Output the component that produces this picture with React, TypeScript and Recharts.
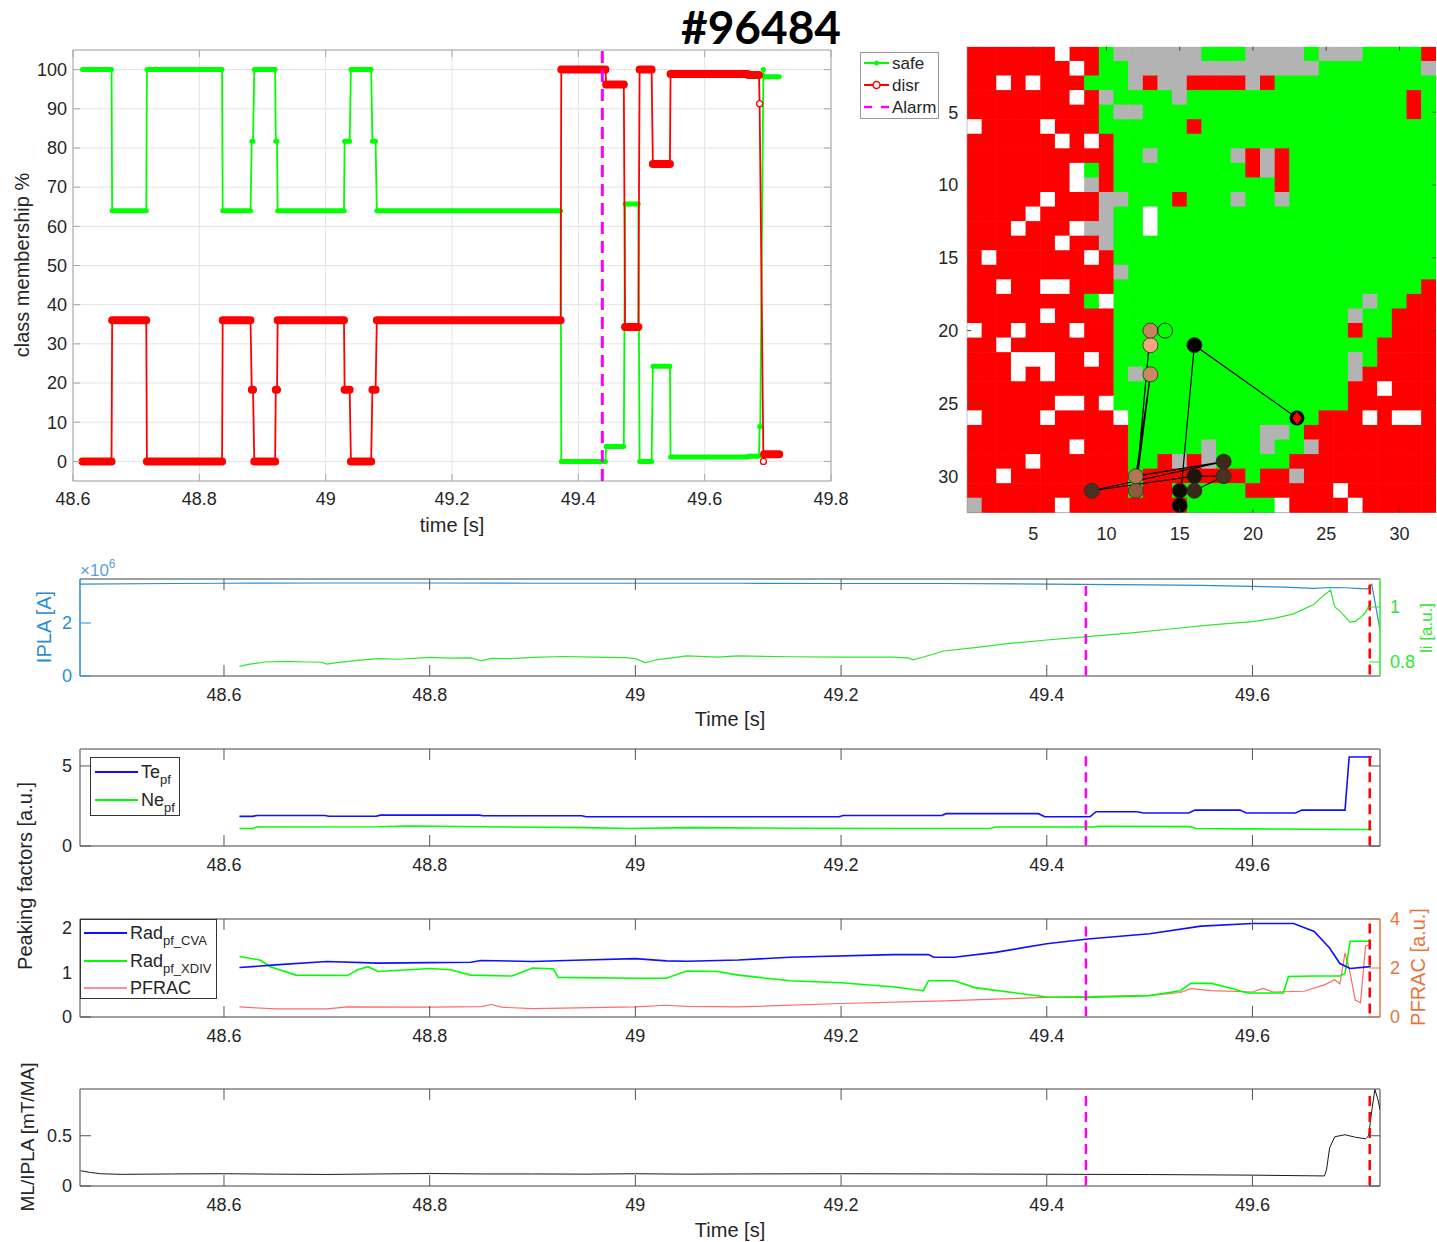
import React from 'react'
import {
  LineChart, Line, XAxis, YAxis, CartesianGrid, ReferenceLine, ReferenceArea,
  ScatterChart, Scatter,
} from 'recharts'

const FONT = '"Liberation Sans", Arial, Helvetica, sans-serif'
const TXT = '#262626'
const BOX = '#808080'
const GREEN = '#00ff00'
const RED = '#ff0000'
const MAGENTA = '#ff00ff'
const BLUE = '#1010ff'
const IPLA_BLUE = '#2b8cd6'
const LI_GREEN = '#2ee62e'
const PFRAC_RED = '#ff6a6a'
const PFRAC_ORANGE = '#e8743b'

const ALARM_T = 49.438
const DISR_T = 49.714

// class membership, plateaus as [start, end, value %]
const safeSteps = [
  [48.615, 48.661, 100], [48.662, 48.716, 64], [48.717, 48.836, 100], [48.837, 48.881, 64],
  [48.883, 48.885, 81.7], [48.887, 48.920, 100], [48.921, 48.923, 81.7], [48.924, 49.029, 64],
  [49.030, 49.038, 81.7], [49.040, 49.072, 100], [49.074, 49.079, 81.7], [49.081, 49.372, 64],
  [49.373, 49.443, 0], [49.444, 49.472, 3.8], [49.474, 49.495, 65.7], [49.497, 49.516, 0],
  [49.518, 49.545, 24.3], [49.546, 49.668, 1.1], [49.669, 49.686, 1.3], [49.687, 49.688, 8.9],
  [49.693, 49.693, 100], [49.694, 49.718, 98.2],
]
const disrSteps = [
  [48.615, 48.661, 0], [48.662, 48.716, 36], [48.717, 48.836, 0], [48.837, 48.881, 36],
  [48.883, 48.885, 18.3], [48.887, 48.920, 0], [48.921, 48.923, 18.3], [48.924, 49.029, 36],
  [49.030, 49.038, 18.3], [49.040, 49.072, 0], [49.074, 49.079, 18.3], [49.081, 49.372, 36],
  [49.373, 49.443, 100], [49.444, 49.472, 96.2], [49.474, 49.495, 34.3], [49.497, 49.516, 100],
  [49.518, 49.545, 75.9], [49.546, 49.668, 98.9], [49.669, 49.686, 98.6], [49.687, 49.687, 91.3],
  [49.693, 49.693, 0], [49.694, 49.718, 1.8],
]
const memTicksX = [48.6, 48.8, 49, 49.2, 49.4, 49.6, 49.8]
const memTicksY = [0, 10, 20, 30, 40, 50, 60, 70, 80, 90, 100]

// SOM map: R disr, G safe, S gray, W empty
const somRows = [
  'RRRRRRWRRGSSSSSSGGGSSSSGSSSGGGGR',
  'RRRRRRRWRGGSSSSSSSSSSSSSGGGGGGGS',
  'RRWRWRRRGGGSRSSRRRRSRGGGGGGGGGGG',
  'RRRRRRRWRSGGGGSGGGGGGGGGGGGGGGRG',
  'RRRRRRRRRGSSGGGGGGGGGGGGGGGGGGRG',
  'WRRRRWRRRGGGGGGRGGGGGGGGGGGGGGGG',
  'RRRRRRWRWRGGGGGGGGGGGGGGGGGGGGGG',
  'RRRRRRRRRRGGSGGGGGSRSRGGGGGGGGGG',
  'RRRRRRRWGRGGGGGGGGGRSRGGGGGGGGGG',
  'RRRRRRRWSRGGGGGGGGGGGRGGGGGGGGGG',
  'RRRRRWRRRSSGGGRGGGSGGSGGGGGGGGGG',
  'RRRRWRRRRSGGWGGGGGGGGGGGGGGGGGGG',
  'RRRWRRRWSSGGWGGGGGGGGGGGGGGGGGGG',
  'RRRRRRWRRSGGGGGGGGGGGGGGGGGGGGGG',
  'RWRRRRRRWRGGGGGGGGGGGGGGGGGGGGGG',
  'RRRRRRRRRRSGGGGGGGGGGGGGGGGGGGGG',
  'RRWRRWWRRRGGGGGGGGGGGGGGGGGGGGGR',
  'RRRRRRRRGWGGGGGGGGGGGGGGGGGSGGRR',
  'RRRRRWRRRRGGGGGGGGGGGGGGGGSGGRRR',
  'WRRWRRRWRRGGGGGGGGGGGGGGGGRGGRRR',
  'RRWRRRRRRRGGGGGGGGGGGGGGGGGGRRRR',
  'RRRWWWRRWRGGGGGGGGGGGGGGGGSGRRRR',
  'RRRWRWRRRRGSGGGGGGGGGGGGGGSRRRRR',
  'RRRRRRRRRRGGGGGGGGGGGGGGGGRRWRRR',
  'RRRRRRWWRWGGGGGGGGGGGGGGGGRRRRRR',
  'WRRRRWRRRRWGGGGGGGGGGGGGRRRWRWWR',
  'RRRRRRRRRRRGGGGGGGGGSSGRRRRRRRRR',
  'RRRRRRRWRRRGGGGGSGGGSGGSRRRRRRRR',
  'RRRRWRRRRRRGGRSRSGGGGGRRRRRRRRRR',
  'RRWRRRRRRRRGRRRRRRRGRRSRRRRRRRRR',
  'RRRRRRRRRRRGRRGGGGGRRRRRRWRRRRRR',
  'SRRRRRWRRRRRRRRGGGGGGWRRRRWRRRRR',
]
const somColor: Record<string, string> = { R: '#ff0000', G: '#00ff00', S: '#b3b3b3', W: '#ffffff' }
const somTicks = [5, 10, 15, 20, 25, 30]

// trajectory on the map, oldest (light) to newest (dark), last = current
const trajCol = [13, 13, 12, 13, 12, 18, 9, 16, 18, 16, 15, 15, 16, 23]
const trajRow = [21, 20, 31, 23, 30, 29, 31, 30, 30, 31, 31, 32, 21, 26]
const trajFill = ['#f4a57c', '#c4855d', '#8a5b3e', '#c98a62', '#b07854', '#3c2a1b', '#4a3020',
  '#1f150d', '#4a3222', '#3a2818', '#0d0906', '#000000', '#000000', '#ff0000']
const openCol = [14]
const openRow = [20]

// time traces
const T0 = 48.46
const T1 = 49.724
const timeTicks = [48.6, 48.8, 49, 49.2, 49.4, 49.6]

const iplaT = [48.46, 48.55, 48.6, 48.7, 48.8, 48.9, 49.0, 49.1, 49.2, 49.3, 49.4, 49.5, 49.55, 49.6, 49.63, 49.66, 49.675, 49.69, 49.705, 49.712, 49.716, 49.72, 49.724]
const iplaV = [3.47, 3.49, 3.50, 3.51, 3.51, 3.50, 3.50, 3.50, 3.49, 3.49, 3.47, 3.44, 3.42, 3.38, 3.35, 3.31, 3.34, 3.33, 3.30, 3.29, 3.46, 2.6, 1.75]

const liT = [48.615, 48.625, 48.64, 48.66, 48.68, 48.695, 48.70, 48.71, 48.73, 48.75, 48.77, 48.8, 48.82, 48.84, 48.85, 48.86, 48.88, 48.9, 48.93, 48.96, 48.99, 49.0, 49.01, 49.02, 49.05, 49.08, 49.1, 49.15, 49.2, 49.25, 49.265, 49.27, 49.28, 49.3, 49.33, 49.36, 49.4, 49.44, 49.48, 49.52, 49.56, 49.6, 49.62, 49.64, 49.66, 49.67, 49.676, 49.68, 49.685, 49.69, 49.695, 49.70, 49.705, 49.71, 49.715]
const liV = [0.784, 0.792, 0.800, 0.802, 0.800, 0.799, 0.792, 0.798, 0.806, 0.812, 0.810, 0.817, 0.814, 0.815, 0.804, 0.813, 0.812, 0.817, 0.820, 0.818, 0.816, 0.812, 0.797, 0.808, 0.822, 0.818, 0.822, 0.819, 0.818, 0.818, 0.815, 0.808, 0.818, 0.840, 0.852, 0.866, 0.880, 0.892, 0.905, 0.92, 0.935, 0.947, 0.958, 0.975, 1.01, 1.045, 1.062, 1.0, 0.985, 0.965, 0.945, 0.948, 0.962, 0.98, 1.02]

const teT = [48.615, 48.628, 48.632, 48.698, 48.702, 48.748, 48.752, 48.848, 48.852, 48.948, 48.952, 49.198, 49.202, 49.298, 49.302, 49.392, 49.398, 49.442, 49.448, 49.488, 49.494, 49.538, 49.544, 49.588, 49.594, 49.642, 49.648, 49.690, 49.694, 49.716]
const teV = [1.85, 1.85, 1.91, 1.91, 1.86, 1.86, 1.93, 1.93, 1.89, 1.89, 1.83, 1.83, 1.91, 1.91, 2.02, 2.02, 1.83, 1.83, 2.14, 2.14, 2.06, 2.06, 2.24, 2.24, 2.06, 2.06, 2.24, 2.24, 5.56, 5.56]
const neT = [48.615, 48.628, 48.632, 48.75, 48.78, 48.85, 48.95, 48.995, 49.05, 49.15, 49.25, 49.345, 49.35, 49.445, 49.45, 49.54, 49.545, 49.6, 49.69, 49.716]
const neV = [1.09, 1.09, 1.19, 1.2, 1.25, 1.2, 1.15, 1.09, 1.15, 1.11, 1.09, 1.09, 1.19, 1.19, 1.23, 1.21, 1.09, 1.07, 1.03, 1.03]

const radCvaT = [48.615, 48.65, 48.7, 48.75, 48.8, 48.84, 48.85, 48.9, 48.95, 49.0, 49.03, 49.05, 49.1, 49.15, 49.25, 49.285, 49.29, 49.31, 49.35, 49.4, 49.44, 49.5, 49.55, 49.6, 49.64, 49.66, 49.675, 49.685, 49.695, 49.715]
const radCvaV = [1.11, 1.17, 1.245, 1.21, 1.22, 1.23, 1.27, 1.245, 1.28, 1.31, 1.26, 1.25, 1.28, 1.34, 1.40, 1.40, 1.34, 1.34, 1.45, 1.645, 1.75, 1.87, 2.04, 2.10, 2.10, 1.92, 1.55, 1.2, 1.09, 1.13]
const radXdivT = [48.615, 48.635, 48.645, 48.67, 48.72, 48.73, 48.74, 48.75, 48.78, 48.8, 48.82, 48.84, 48.88, 48.9, 48.92, 48.925, 49.0, 49.03, 49.05, 49.08, 49.1, 49.15, 49.2, 49.25, 49.28, 49.285, 49.31, 49.33, 49.4, 49.44, 49.5, 49.53, 49.54, 49.56, 49.58, 49.595, 49.63, 49.635, 49.66, 49.685, 49.69, 49.695, 49.715]
const radXdivV = [1.36, 1.28, 1.13, 0.94, 0.93, 1.06, 1.13, 1.02, 1.06, 1.09, 1.06, 0.94, 0.92, 1.10, 1.08, 0.89, 0.87, 0.87, 1.03, 1.02, 0.94, 0.815, 0.77, 0.68, 0.59, 0.815, 0.815, 0.66, 0.45, 0.44, 0.48, 0.59, 0.755, 0.755, 0.64, 0.54, 0.54, 0.91, 0.92, 0.92, 0.98, 1.70, 1.70]
const pfracT = [48.615, 48.65, 48.7, 48.72, 48.8, 48.85, 48.86, 48.87, 48.9, 49.0, 49.03, 49.05, 49.1, 49.2, 49.3, 49.4, 49.5, 49.53, 49.54, 49.56, 49.6, 49.61, 49.62, 49.65, 49.67, 49.68, 49.685, 49.69, 49.695, 49.7, 49.705, 49.71, 49.715]
const pfracV = [0.41, 0.33, 0.33, 0.41, 0.40, 0.42, 0.51, 0.40, 0.34, 0.41, 0.48, 0.43, 0.41, 0.55, 0.66, 0.80, 0.88, 1.0, 1.16, 1.08, 1.02, 1.17, 1.02, 1.05, 1.31, 1.52, 1.35, 2.62, 1.79, 0.69, 0.58, 2.9, 2.97]

const mlT = [48.46, 48.47, 48.48, 48.5, 48.55, 48.6, 48.65, 48.7, 48.75, 48.8, 48.85, 48.9, 48.95, 49.0, 49.05, 49.1, 49.2, 49.3, 49.4, 49.5, 49.6, 49.67, 49.672, 49.675, 49.68, 49.69, 49.70, 49.71, 49.713, 49.716, 49.719, 49.722, 49.724]
const mlV = [0.152, 0.135, 0.122, 0.116, 0.12, 0.122, 0.118, 0.115, 0.12, 0.124, 0.12, 0.12, 0.118, 0.122, 0.118, 0.12, 0.122, 0.12, 0.117, 0.114, 0.108, 0.10, 0.16, 0.38, 0.49, 0.51, 0.485, 0.47, 0.5, 0.75, 0.96, 0.86, 0.76]

const zip = (t: number[], v: number[]) => t.map((x, i) => ({ t: x, v: v[i] }))
const stepLine = (s: number[][]) => s.flatMap(([a, b, v]) => (a === b ? [{ t: a, v }] : [{ t: a, v }, { t: b, v }]))
const stepBars = (s: number[][]) =>
  s.filter(([a, b]) => b > a).flatMap(([a, b, v]) => [{ t: a, v }, { t: b, v }, { t: b, v: null }])
const stepDots = (s: number[][]) => s.filter(([a, b]) => a === b).map(([a, , v]) => ({ t: a, v }))

const somCells = somRows.flatMap((row, ri) => row.split('').map((k, ci) => ({ c: ci + 1, r: ri + 1, k })))
const trajData = trajCol.map((c, i) => ({ c, r: trajRow[i], col: trajFill[i], last: i === trajCol.length - 1 }))
const openData = openCol.map((c, i) => ({ c, r: openRow[i] }))

type TP = { x: number; y: number; payload: { value: number } }

// inward ticks on bottom + top edge, label below
const xTick = (plotH: number, len: number, color: string, dy: number) => ({ x, y, payload }: TP) => (
  <g>
    <line x1={x} x2={x} y1={y} y2={y - len} stroke={color} />
    <line x1={x} x2={x} y1={y - plotH} y2={y - plotH + len} stroke={color} />
    <text x={x} y={y + dy} textAnchor="middle" fontFamily={FONT} fontSize={18} fill={TXT}>{payload.value}</text>
  </g>
)
const yTickL = (plotW: number, len: number, color: string, txt: string, mirror: boolean, gap = 8) =>
  ({ x, y, payload }: TP) => (
    <g>
      <line x1={x} x2={x + len} y1={y} y2={y} stroke={color} />
      {mirror ? <line x1={x + plotW} x2={x + plotW - len} y1={y} y2={y} stroke={color} /> : null}
      <text x={x - gap} y={y} dy="0.35em" textAnchor="end" fontFamily={FONT} fontSize={18} fill={txt}>{payload.value}</text>
    </g>
  )
const yTickR = (len: number, color: string) => ({ x, y, payload }: TP) => (
  <g>
    <line x1={x} x2={x - len} y1={y} y2={y} stroke={color} />
    <text x={x + 10} y={y} dy="0.35em" textAnchor="start" fontFamily={FONT} fontSize={18} fill={color}>{payload.value}</text>
  </g>
)

const timeAxis = (plotH: number) => ({
  type: 'number' as const, dataKey: 't', domain: [T0, T1], ticks: timeTicks, interval: 0 as const,
  height: 30, allowDataOverflow: true, tickLine: false, tickSize: 0, tickMargin: 0,
  axisLine: { stroke: BOX, strokeWidth: 1.5 }, tick: xTick(plotH, 11, '#555', 25),
})

function MembershipChart() {
  return (
    <LineChart width={860} height={545} margin={{ top: 50, right: 29, bottom: 34, left: 13 }}>
      <CartesianGrid stroke="#e4e4e4" />
      <XAxis type="number" dataKey="t" domain={[48.6, 49.8]} ticks={memTicksX} interval={0} height={30}
        allowDataOverflow axisLine={false} tickLine={false} tickSize={0} tickMargin={0}
        tick={xTick(431, 7, '#a6a6a6', 24)} />
      <YAxis type="number" domain={[-5, 105]} ticks={memTicksY} interval={0} width={60}
        allowDataOverflow axisLine={false} tickLine={false} tickSize={0} tickMargin={0}
        tick={yTickL(758, 7, '#a6a6a6', TXT, true, 6)} />
      <ReferenceArea x1={48.6} x2={49.8} y1={-5} y2={105} fill="none" stroke="#a6a6a6" ifOverflow="visible" />
      <Line data={stepLine(safeSteps)} dataKey="v" stroke={GREEN} strokeWidth={1.8} dot={false} isAnimationActive={false} />
      <Line data={stepBars(safeSteps)} dataKey="v" stroke={GREEN} strokeWidth={5} strokeLinecap="round" dot={false} isAnimationActive={false} />
      <Line data={stepDots(safeSteps)} dataKey="v" stroke="none" dot={{ r: 2.2, fill: GREEN, stroke: GREEN }} isAnimationActive={false} />
      <Line data={stepLine(disrSteps)} dataKey="v" stroke={RED} strokeWidth={1.8} dot={false} isAnimationActive={false} />
      <Line data={stepBars(disrSteps)} dataKey="v" stroke={RED} strokeWidth={8} strokeLinecap="round" dot={false} isAnimationActive={false} />
      <Line data={stepDots(disrSteps)} dataKey="v" stroke="none" dot={{ r: 3, fill: '#fff', stroke: RED, strokeWidth: 1.3 }} isAnimationActive={false} />
      <ReferenceLine x={ALARM_T} stroke={MAGENTA} strokeWidth={3} strokeDasharray="12 7" ifOverflow="visible" />
    </LineChart>
  )
}

const CELL_W = 468.8 / 32
const CELL_H = 465.9 / 32

const SomCell = (p: any) => (
  <rect x={p.cx - CELL_W / 2 - 0.3} y={p.cy - CELL_H / 2 - 0.3} width={CELL_W + 0.6} height={CELL_H + 0.6}
    fill={somColor[p.payload.k]} />
)
const TrajMark = (p: any) => {
  const { cx, cy, payload } = p
  if (payload.last) {
    return (
      <g>
        <circle cx={cx} cy={cy} r={7.5} fill="#000" />
        <path d={`M${cx},${cy - 6.5} L${cx + 4.5},${cy} L${cx},${cy + 6.5} L${cx - 4.5},${cy} Z`} fill={RED} />
      </g>
    )
  }
  return <circle cx={cx} cy={cy} r={7.5} fill={payload.col} stroke="#2a2a2a" strokeWidth={0.8} />
}
const OpenMark = (p: any) => <circle cx={p.cx} cy={p.cy} r={7.5} fill="none" stroke="#1a1a1a" strokeWidth={1} />

function SomMap() {
  return (
    <ScatterChart width={537} height={560} margin={{ top: 46.7, right: 0.9, bottom: 17.4, left: 7.3 }}>
      <XAxis type="number" dataKey="c" domain={[0.5, 32.5]} ticks={somTicks} interval={0} height={30}
        allowDataOverflow axisLine={{ stroke: '#777' }} tickLine={false} tickSize={0} tickMargin={0}
        tick={xTick(465.9, 4, '#444', 27)} />
      <YAxis type="number" dataKey="r" domain={[0.5, 32.5]} reversed ticks={somTicks} interval={0} width={60}
        allowDataOverflow axisLine={{ stroke: '#777' }} tickLine={false} tickSize={0} tickMargin={0}
        tick={yTickL(468.8, 4, '#444', TXT, true, 9)} />
      <Scatter data={somCells} shape={SomCell} isAnimationActive={false} />
      <Scatter data={trajData} shape={TrajMark} line={{ stroke: '#000', strokeWidth: 1.2 }} isAnimationActive={false} />
      <Scatter data={openData} shape={OpenMark} isAnimationActive={false} />
    </ScatterChart>
  )
}

function IplaPanel() {
  return (
    <LineChart width={1437} height={190} margin={{ top: 29, right: 17, bottom: 34, left: 20 }}>
      <XAxis {...timeAxis(97)} />
      <YAxis yAxisId="l" type="number" domain={[0, 3.66]} ticks={[0, 2]} interval={0} width={60}
        allowDataOverflow tickLine={false} tickSize={0} tickMargin={0}
        axisLine={{ stroke: IPLA_BLUE, strokeWidth: 1.5 }} tick={yTickL(1300, 11, IPLA_BLUE, IPLA_BLUE, false)} />
      <YAxis yAxisId="r" orientation="right" type="number" domain={[0.749, 1.102]} ticks={[0.8, 1]} interval={0}
        width={40} allowDataOverflow tickLine={false} tickSize={0} tickMargin={0}
        axisLine={{ stroke: LI_GREEN, strokeWidth: 1.5 }} tick={yTickR(11, LI_GREEN)} />
      <ReferenceLine yAxisId="l" y={3.66} stroke={BOX} strokeWidth={1.5} ifOverflow="visible" />
      <Line yAxisId="l" data={zip(iplaT, iplaV)} dataKey="v" stroke={IPLA_BLUE} strokeWidth={1.2} dot={false} isAnimationActive={false} />
      <Line yAxisId="r" data={zip(liT, liV)} dataKey="v" stroke={LI_GREEN} strokeWidth={1.2} dot={false} isAnimationActive={false} />
      <ReferenceLine yAxisId="l" segment={[{ x: ALARM_T, y: 3.4 }, { x: ALARM_T, y: 0 }]} stroke={MAGENTA} strokeWidth={2.5} strokeDasharray="10 6" />
      <ReferenceLine yAxisId="l" segment={[{ x: DISR_T, y: 3.45 }, { x: DISR_T, y: 0 }]} stroke={RED} strokeWidth={2.5} strokeDasharray="10 6" />
    </LineChart>
  )
}

function ProfilePanel() {
  return (
    <LineChart width={1437} height={140} margin={{ top: 9, right: 57, bottom: 4, left: 20 }}>
      <XAxis {...timeAxis(97)} />
      <YAxis type="number" domain={[0, 6.06]} ticks={[0, 5]} interval={0} width={60}
        allowDataOverflow tickLine={false} tickSize={0} tickMargin={0}
        axisLine={{ stroke: BOX, strokeWidth: 1.5 }} tick={yTickL(1300, 11, '#555', TXT, true)} />
      <ReferenceLine y={6.06} stroke={BOX} strokeWidth={1.5} ifOverflow="visible" />
      <ReferenceLine x={T1} stroke={BOX} strokeWidth={1.5} ifOverflow="visible" />
      <Line data={zip(neT, neV)} dataKey="v" stroke={GREEN} strokeWidth={1.6} dot={false} isAnimationActive={false} />
      <Line data={zip(teT, teV)} dataKey="v" stroke={BLUE} strokeWidth={1.6} dot={false} isAnimationActive={false} />
      <ReferenceLine segment={[{ x: ALARM_T, y: 5.6 }, { x: ALARM_T, y: 0 }]} stroke={MAGENTA} strokeWidth={2.5} strokeDasharray="10 6" />
      <ReferenceLine segment={[{ x: DISR_T, y: 5.6 }, { x: DISR_T, y: 0 }]} stroke={RED} strokeWidth={2.5} strokeDasharray="10 6" />
    </LineChart>
  )
}

function RadPanel() {
  return (
    <LineChart width={1437} height={150} margin={{ top: 19, right: 17, bottom: 3, left: 20 }}>
      <XAxis {...timeAxis(98)} />
      <YAxis yAxisId="l" type="number" domain={[0, 2.2]} ticks={[0, 1, 2]} interval={0} width={60}
        allowDataOverflow tickLine={false} tickSize={0} tickMargin={0}
        axisLine={{ stroke: BOX, strokeWidth: 1.5 }} tick={yTickL(1300, 11, '#555', TXT, false)} />
      <YAxis yAxisId="r" orientation="right" type="number" domain={[0, 4]} ticks={[0, 2, 4]} interval={0}
        width={40} allowDataOverflow tickLine={false} tickSize={0} tickMargin={0}
        axisLine={{ stroke: PFRAC_ORANGE, strokeWidth: 1.5 }} tick={yTickR(11, PFRAC_ORANGE)} />
      <ReferenceLine yAxisId="l" y={2.2} stroke={BOX} strokeWidth={1.5} ifOverflow="visible" />
      <Line yAxisId="r" data={zip(pfracT, pfracV)} dataKey="v" stroke={PFRAC_RED} strokeWidth={1.2} dot={false} isAnimationActive={false} />
      <Line yAxisId="l" data={zip(radXdivT, radXdivV)} dataKey="v" stroke={GREEN} strokeWidth={1.6} dot={false} isAnimationActive={false} />
      <Line yAxisId="l" data={zip(radCvaT, radCvaV)} dataKey="v" stroke={BLUE} strokeWidth={1.6} dot={false} isAnimationActive={false} />
      <ReferenceLine yAxisId="l" segment={[{ x: ALARM_T, y: 2.03 }, { x: ALARM_T, y: 0 }]} stroke={MAGENTA} strokeWidth={2.5} strokeDasharray="10 6" />
      <ReferenceLine yAxisId="l" segment={[{ x: DISR_T, y: 2.1 }, { x: DISR_T, y: 0 }]} stroke={RED} strokeWidth={2.5} strokeDasharray="10 6" />
    </LineChart>
  )
}

function LockedModePanel() {
  return (
    <LineChart width={1437} height={182} margin={{ top: 29, right: 57, bottom: 26, left: 20 }}>
      <XAxis {...timeAxis(97)} />
      <YAxis type="number" domain={[0, 0.965]} ticks={[0, 0.5]} interval={0} width={60}
        allowDataOverflow tickLine={false} tickSize={0} tickMargin={0}
        axisLine={{ stroke: BOX, strokeWidth: 1.5 }} tick={yTickL(1300, 11, '#555', TXT, true)} />
      <ReferenceLine y={0.965} stroke={BOX} strokeWidth={1.5} ifOverflow="visible" />
      <ReferenceLine x={T1} stroke={BOX} strokeWidth={1.5} ifOverflow="visible" />
      <Line data={zip(mlT, mlV)} dataKey="v" stroke="#1a1a1a" strokeWidth={1} dot={false} isAnimationActive={false} />
      <ReferenceLine segment={[{ x: ALARM_T, y: 0.895 }, { x: ALARM_T, y: 0 }]} stroke={MAGENTA} strokeWidth={2.5} strokeDasharray="10 6" />
      <ReferenceLine segment={[{ x: DISR_T, y: 0.895 }, { x: DISR_T, y: 0 }]} stroke={RED} strokeWidth={2.5} strokeDasharray="10 6" />
    </LineChart>
  )
}

const txt = { fontFamily: FONT, fill: TXT }

function Labels() {
  return (
    <svg width={1437} height={1242} style={{ position: 'absolute', left: 0, top: 0, pointerEvents: 'none' }}>
      <text x={761} y={44} textAnchor="middle" fontFamily="Lato, 'Open Sans', sans-serif" fontWeight={700} fontSize={46} fill="#000">#96484</text>

      <text transform="translate(29,265) rotate(-90)" textAnchor="middle" fontSize={20} {...txt}>class membership %</text>
      <text x={452} y={532} textAnchor="middle" fontSize={20} {...txt}>time [s]</text>

      {/* membership legend */}
      <rect x={860.5} y={52.5} width={78} height={66} fill="#fff" stroke="#9a9a9a" />
      <line x1={864} x2={889} y1={63} y2={63} stroke={GREEN} strokeWidth={2} />
      <circle cx={876.5} cy={63} r={2.5} fill={GREEN} />
      <text x={892} y={69} fontSize={17} {...txt}>safe</text>
      <line x1={864} x2={889} y1={85} y2={85} stroke={RED} strokeWidth={2} />
      <circle cx={876.5} cy={85} r={3.5} fill="#fff" stroke={RED} strokeWidth={1.5} />
      <text x={892} y={91} fontSize={17} {...txt}>disr</text>
      <line x1={864} x2={889} y1={107} y2={107} stroke={MAGENTA} strokeWidth={2.5} strokeDasharray="8 9" />
      <text x={892} y={113} fontSize={17} {...txt}>Alarm</text>

      {/* IPLA / li */}
      <text x={80} y={576} fontSize={17} fontFamily={FONT} fill="#5aa0dc">×10<tspan dy={-8} fontSize={12}>6</tspan></text>
      <text transform="translate(51,627) rotate(-90)" textAnchor="middle" fontSize={20} fontFamily={FONT} fill={IPLA_BLUE}>IPLA [A]</text>
      <text transform="translate(1432,628) rotate(-90)" textAnchor="middle" fontSize={17} fontFamily={FONT} fill={LI_GREEN}>li [a.u.]</text>
      <text x={730} y={726} textAnchor="middle" fontSize={20} {...txt}>Time [s]</text>

      {/* peaking factors */}
      <text transform="translate(32,876) rotate(-90)" textAnchor="middle" fontSize={20} {...txt}>Peaking factors [a.u.]</text>
      <rect x={90.5} y={757.5} width={89} height={58} fill="#fff" stroke="#333" />
      <line x1={95} x2={138} y1={772} y2={772} stroke={BLUE} strokeWidth={2} />
      <text x={141} y={778} fontSize={18} {...txt}>Te<tspan dy={6} fontSize={13}>pf</tspan></text>
      <line x1={95} x2={138} y1={800} y2={800} stroke={GREEN} strokeWidth={2} />
      <text x={141} y={806} fontSize={18} {...txt}>Ne<tspan dy={6} fontSize={13}>pf</tspan></text>

      <rect x={80.5} y={919.5} width={136} height={79} fill="#fff" stroke="#333" />
      <line x1={84} x2={127} y1={933} y2={933} stroke={BLUE} strokeWidth={2} />
      <text x={130} y={939} fontSize={18} {...txt}>Rad<tspan dy={6} fontSize={13}>pf_CVA</tspan></text>
      <line x1={84} x2={127} y1={961} y2={961} stroke={GREEN} strokeWidth={2} />
      <text x={130} y={967} fontSize={18} {...txt}>Rad<tspan dy={6} fontSize={13}>pf_XDIV</tspan></text>
      <line x1={84} x2={127} y1={988} y2={988} stroke={PFRAC_RED} strokeWidth={1.5} />
      <text x={130} y={994} fontSize={18} {...txt}>PFRAC</text>
      <text transform="translate(1425,967) rotate(-90)" textAnchor="middle" fontSize={20} fontFamily={FONT} fill={PFRAC_ORANGE}>PFRAC [a.u.]</text>

      {/* locked mode */}
      <text transform="translate(34,1137) rotate(-90)" textAnchor="middle" fontSize={19} {...txt}>ML/IPLA [mT/MA]</text>
      <text x={730} y={1237} textAnchor="middle" fontSize={20} {...txt}>Time [s]</text>
    </svg>
  )
}

export default function App() {
  return (
    <div style={{ position: 'absolute', left: 0, top: 0, width: 1437, height: 1242, overflow: 'hidden', background: '#fff', fontFamily: FONT }}>
      <div style={{ position: 'absolute', left: 0, top: 0 }}><MembershipChart /></div>
      <div style={{ position: 'absolute', left: 900, top: 0 }}><SomMap /></div>
      <div style={{ position: 'absolute', left: 0, top: 550 }}><IplaPanel /></div>
      <div style={{ position: 'absolute', left: 0, top: 740 }}><ProfilePanel /></div>
      <div style={{ position: 'absolute', left: 0, top: 900 }}><RadPanel /></div>
      <div style={{ position: 'absolute', left: 0, top: 1060 }}><LockedModePanel /></div>
      <Labels />
    </div>
  )
}
